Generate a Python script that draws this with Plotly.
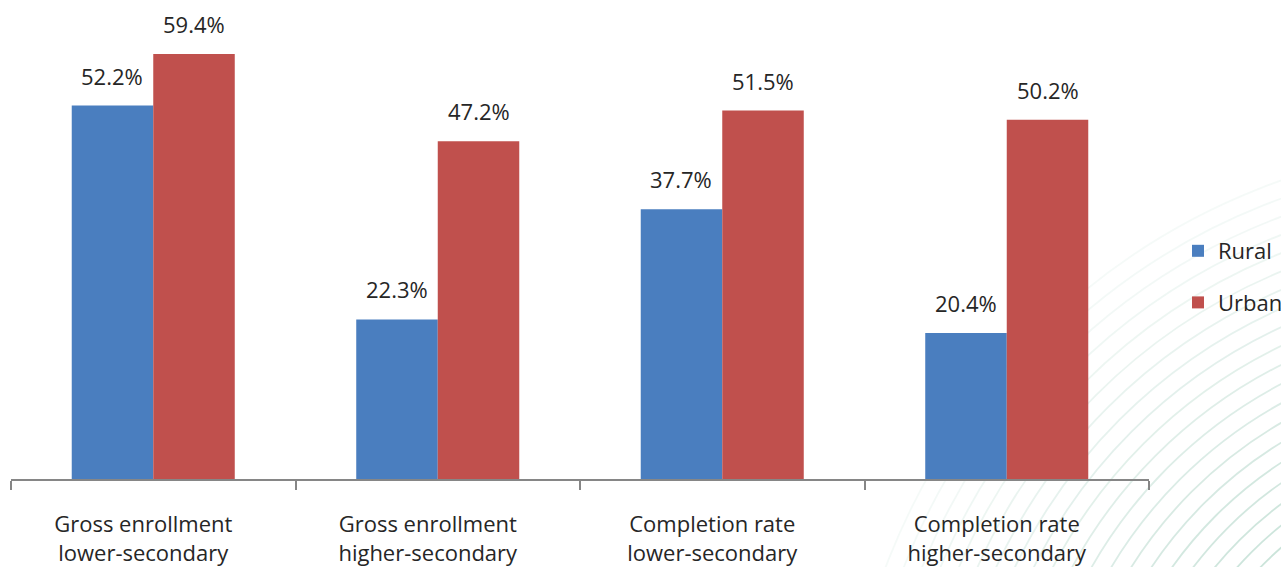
import plotly.graph_objects as go

categories = ["Gross enrollment<br>lower-secondary", "Gross enrollment<br>higher-secondary",
              "Completion rate<br>lower-secondary", "Completion rate<br>higher-secondary"]
rural = [52.2, 22.3, 37.7, 20.4]
urban = [59.4, 47.2, 51.5, 50.2]
series_names = ["Rural", "Urban"]
series_colors = ["#4a7ebf", "#c0504d"]

W, H = 1281, 567
ML, MR, MT, MB = 11, 132, 0, 88
PW, PH = W - ML - MR, H - MT - MB

def px2paper(x, y):
    return (x - ML) / PW, (H - MB - y) / PH

fig = go.Figure()
for name, vals, col, grp in zip(series_names, [rural, urban], series_colors, ["a", "b"]):
    fig.add_trace(go.Bar(x=categories, y=vals, name=name, marker_color=col,
                         marker_line_width=0, legendgroup=grp))

# value labels
bar_px = PW / 4 * (1 - 0.427) / 2
for vals, sh in [(rural, -bar_px / 2), (urban, bar_px / 2)]:
    for c, v in zip(categories, vals):
        fig.add_annotation(x=c, y=v, text=f"{v:.1f}%", showarrow=False, xshift=sh,
                           yshift=13, yanchor="bottom",
                           font=dict(size=22, color="#262626", family="Open Sans"))

# decorative faint arcs
shapes = []
cx, cy = 1500, 800
for i, r in enumerate(range(300, 660, 17)):
    x0, y0 = px2paper(cx - r, cy - r)
    x1, y1 = px2paper(cx + r, cy + r)
    op = max(0.0, 1.0 - 0.04 * i)
    shapes.append(dict(type="circle", xref="paper", yref="paper", x0=x0, y0=y1, x1=x1, y1=y0,
                       line=dict(color="rgba(160,205,188,%.2f)" % (0.6 * op), width=1.8),
                       layer="below"))

fig.update_layout(
    width=W, height=H, margin=dict(l=ML, r=MR, t=MT, b=MB, autoexpand=False),
    paper_bgcolor="white", plot_bgcolor="rgba(0,0,0,0)",
    barmode="group", bargap=0.427, bargroupgap=0,
    font=dict(family="Open Sans", color="#262626", size=22),
    shapes=shapes,
    legend=dict(x=1.0255, xanchor="left", y=px2paper(0, 277)[1], yanchor="middle",
                traceorder="grouped", tracegroupgap=20, font=dict(size=22),
                bgcolor="rgba(0,0,0,0)"),
    xaxis=dict(showline=True, linecolor="#868686", linewidth=2, ticks="outside",
               ticklen=9, tickwidth=2, tickcolor="#868686", tickson="boundaries",
               range=[-0.5, 3.5], tickfont=dict(size=22, color="#262626"),
               ticklabelstandoff=25, ticklabelshift=-10),
    yaxis=dict(range=[0, 479 / 7.155], visible=False, showgrid=False),
)

fig.write_html("out.html")
